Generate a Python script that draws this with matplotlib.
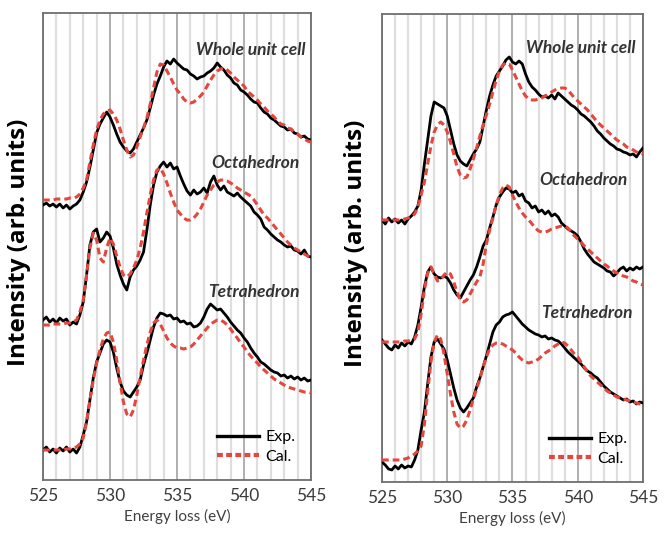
import numpy as np
import matplotlib.pyplot as plt
from matplotlib.ticker import MultipleLocator

plt.rcParams['font.family'] = ['Lato', 'DejaVu Sans']

# energy grid (eV), 0.25 eV steps
energy = np.arange(525.0, 545.01, 0.25)

# ---- left panel (arb. units) ----
left_whole_exp = [275, 277, 274, 276, 273, 276, 272, 275, 271, 274, 276, 280, 288, 298, 313, 330, 347, 356, 362, 368,
                  363, 355, 346, 338, 333, 329, 327, 331, 338, 345, 352, 360, 372, 385, 396, 404, 413, 419, 416, 421,
                  417, 414, 411, 410, 406, 404, 401, 403, 404, 407, 409, 412, 417, 413, 410, 405, 402, 397, 395, 390,
                  388, 385, 381, 378, 377, 372, 368, 366, 362, 360, 357, 354, 353, 350, 351, 347, 346, 343, 344, 341, 340]
left_whole_cal = [280, 280, 280, 280, 281, 281, 281, 281, 282, 282, 283, 286, 292, 300, 318, 335, 350, 360, 366, 369,
                  370, 366, 360, 351, 340, 330, 323, 325, 333, 343, 352, 362, 376, 392, 408, 416, 415, 409, 403, 396,
                  390, 386, 381, 378, 377, 378, 381, 384, 388, 394, 400, 405, 409, 411, 412, 410, 407, 403, 400, 397,
                  394, 389, 386, 383, 380, 376, 373, 369, 366, 363, 359, 356, 355, 352, 351, 348, 346, 343, 341, 339, 338]
left_oct_exp = [160, 163, 158, 161, 157, 162, 159, 161, 155, 158, 156, 165, 178, 205, 235, 248, 251, 238, 242, 248,
                244, 232, 216, 205, 196, 190, 203, 210, 214, 220, 228, 250, 275, 295, 308, 314, 318, 313, 317, 311,
                313, 304, 296, 289, 285, 290, 286, 288, 292, 287, 298, 304, 295, 290, 294, 288, 286, 284, 287, 283,
                280, 277, 274, 268, 265, 261, 253, 250, 246, 243, 240, 238, 235, 233, 234, 230, 229, 226, 230, 224, 223]
left_oct_cal = [155, 155, 155, 156, 156, 156, 156, 157, 157, 158, 160, 168, 180, 205, 232, 247, 240, 222, 218, 232,
                242, 236, 224, 213, 205, 203, 206, 212, 220, 232, 248, 267, 285, 300, 310, 312, 306, 297, 287, 278,
                270, 266, 262, 260, 260, 262, 266, 271, 278, 285, 290, 295, 298, 300, 300, 299, 297, 295, 292, 290,
                288, 286, 284, 280, 275, 270, 265, 262, 258, 254, 250, 246, 242, 238, 235, 232, 230, 228, 226, 224, 222]
left_tet_exp = [30, 33, 28, 31, 27, 32, 29, 33, 28, 31, 27, 33, 45, 58, 80, 102, 118, 127, 136, 140,
                138, 128, 112, 98, 89, 85, 83, 88, 93, 100, 115, 127, 140, 153, 162, 167, 166, 164, 165, 161,
                162, 158, 159, 156, 157, 153, 154, 157, 163, 171, 176, 173, 170, 171, 167, 163, 158, 154, 150, 147,
                142, 138, 132, 127, 123, 118, 116, 113, 110, 108, 107, 104, 105, 102, 104, 101, 103, 100, 102, 99, 100]
left_tet_cal = [30, 30, 30, 30, 30, 30, 30, 31, 31, 32, 33, 36, 42, 58, 80, 100, 117, 130, 141, 147,
                148, 138, 120, 98, 78, 66, 63, 70, 85, 103, 120, 135, 148, 157, 160, 156, 149, 142, 137, 134,
                132, 132, 131, 132, 133, 136, 140, 144, 148, 152, 156, 158, 160, 160, 158, 155, 151, 146, 142, 137,
                133, 128, 124, 120, 117, 113, 110, 107, 104, 101, 99, 97, 95, 93, 92, 91, 90, 89, 88, 88, 87]

# ---- right panel (arb. units) ----
right_whole_exp = [262, 258, 264, 260, 263, 259, 262, 258, 263, 266, 270, 276, 292, 318, 342, 366, 380, 378, 376, 374,
                   366, 352, 338, 327, 321, 318, 316, 322, 328, 333, 340, 356, 372, 386, 397, 406, 411, 416, 422, 425,
                   420, 418, 421, 418, 408, 400, 395, 392, 388, 385, 386, 384, 387, 383, 389, 386, 383, 380, 377, 375,
                   372, 368, 366, 363, 360, 356, 351, 348, 344, 341, 338, 336, 333, 332, 330, 329, 327, 328, 325, 330, 334]
right_whole_cal = [262, 262, 262, 262, 262, 262, 262, 263, 264, 265, 268, 275, 287, 300, 318, 336, 350, 357, 360, 357,
                   350, 340, 328, 315, 307, 304, 305, 313, 323, 334, 346, 357, 367, 378, 390, 402, 411, 417, 419, 418,
                   412, 405, 398, 391, 386, 383, 382, 382, 383, 384, 386, 388, 390, 392, 393, 394, 394, 392, 388, 384,
                   381, 378, 375, 372, 368, 364, 360, 357, 354, 351, 348, 345, 342, 340, 338, 335, 334, 332, 330, 329, 328]
right_oct_exp = [142, 138, 134, 132, 137, 134, 139, 136, 140, 138, 145, 157, 175, 195, 210, 215, 208, 205, 204, 206,
                 204, 199, 192, 187, 184, 190, 196, 202, 207, 215, 225, 236, 242, 254, 265, 277, 285, 290, 294, 293,
                 289, 291, 286, 288, 281, 279, 274, 276, 270, 272, 268, 271, 266, 268, 265, 259, 256, 253, 251, 249,
                 246, 240, 233, 228, 224, 220, 218, 216, 214, 211, 210, 206, 209, 213, 215, 211, 214, 212, 215, 213, 215]
right_oct_cal = [140, 140, 140, 140, 140, 140, 140, 141, 141, 142, 143, 150, 168, 192, 209, 215, 208, 201, 202, 207,
                 210, 208, 200, 190, 182, 180, 182, 188, 194, 200, 205, 218, 238, 252, 264, 277, 287, 294, 297, 295,
                 287, 280, 274, 269, 265, 262, 258, 254, 251, 250, 250, 251, 253, 254, 255, 256, 256, 254, 250, 246,
                 243, 240, 236, 233, 230, 227, 224, 221, 218, 216, 213, 211, 209, 207, 206, 205, 203, 201, 200, 198, 197]
right_tet_exp = [20, 17, 13, 12, 16, 13, 17, 14, 16, 15, 22, 32, 52, 70, 98, 125, 140, 143, 138, 133,
                 122, 108, 94, 82, 74, 70, 74, 79, 84, 95, 104, 115, 126, 138, 150, 157, 160, 165, 167, 168,
                 170, 166, 162, 158, 155, 152, 150, 148, 147, 145, 146, 143, 144, 142, 141, 138, 134, 130, 127, 124,
                 121, 118, 114, 111, 109, 106, 104, 100, 96, 93, 90, 88, 86, 84, 82, 83, 80, 81, 78, 80, 79]
right_tet_cal = [22, 22, 22, 22, 22, 22, 22, 23, 24, 26, 28, 31, 36, 58, 90, 120, 140, 147, 143, 128,
                 108, 88, 70, 58, 54, 56, 62, 72, 83, 93, 103, 115, 125, 133, 137, 139, 139, 138, 136, 134,
                 132, 129, 125, 122, 120, 119, 120, 121, 123, 126, 129, 131, 133, 136, 138, 140, 139, 136, 132, 128,
                 125, 120, 115, 110, 106, 103, 100, 97, 94, 91, 89, 87, 85, 84, 83, 82, 81, 80, 79, 78, 78]

site_names = ['Whole unit cell', 'Octahedron', 'Tetrahedron']

fig = plt.figure(figsize=(6.69, 5.34), dpi=100)
ax1 = fig.add_axes([0.0643, 0.1011, 0.4006, 0.8745])
ax2 = fig.add_axes([0.5710, 0.0974, 0.3901, 0.8764])

panels = [
    (ax1, [(left_whole_exp, left_whole_cal), (left_oct_exp, left_oct_cal), (left_tet_exp, left_tet_cal)],
     [(305, 50), (300, 163), (300, 292)], 467),
    (ax2, [(right_whole_exp, right_whole_cal), (right_oct_exp, right_oct_cal), (right_tet_exp, right_tet_cal)],
     [(635, 48), (628, 180), (633, 313)], 468),
]

red = '#e4473d'
for ax, curves, label_px, top in panels:
    for exp, cal in curves:
        ax.plot(energy, exp, color='black', lw=2.0, zorder=3)
        ax.plot(energy, cal, color=red, lw=2.2, ls=(0, (2.2, 1.3)), zorder=4)
    # legend handles
    ax.plot([], [], color='black', lw=2.4, label='Exp.')
    ax.plot([], [], color=red, lw=3.0, ls=(0, (1.4, 0.8)), label='Cal.')

    ax.set_xlim(525, 545)
    ax.set_ylim(0, top)
    ax.xaxis.set_major_locator(MultipleLocator(5))
    ax.xaxis.set_minor_locator(MultipleLocator(1))
    ax.grid(which='minor', axis='x', color='#dedede', lw=1.6, zorder=0)
    ax.grid(which='major', axis='x', color='#a9a9a9', lw=1.3, zorder=0)
    ax.set_axisbelow(True)
    ax.set_yticks([])
    ax.tick_params(axis='x', which='both', length=0, pad=6, labelsize=12.5, labelcolor='#3a3a3a')
    for s in ax.spines.values():
        s.set_color('#6e6e6e')
        s.set_linewidth(1.3)
    ax.set_xlabel('Energy loss (eV)', fontsize=11, color='#404040', labelpad=3)
    ax.set_ylabel('Intensity (arb. units)', fontsize=17.5, fontweight='bold', color='black',
                  family=['Open Sans', 'DejaVu Sans'])
    ax.legend(loc='lower right', frameon=False, fontsize=11.5, handlelength=2.6, handletextpad=0.4,
              labelspacing=0.35, borderaxespad=0.6)

    for name, (px, py) in zip(site_names, label_px):
        fig.text(px / 669, 1 - py / 534, name, ha='right', va='center', fontsize=12.5,
                 fontweight='bold', style='italic', color='#333333')

ax1.yaxis.set_label_coords(-0.045, 0.51)
ax2.yaxis.set_label_coords(-0.055, 0.51)

fig.savefig('out.png', dpi=100)
